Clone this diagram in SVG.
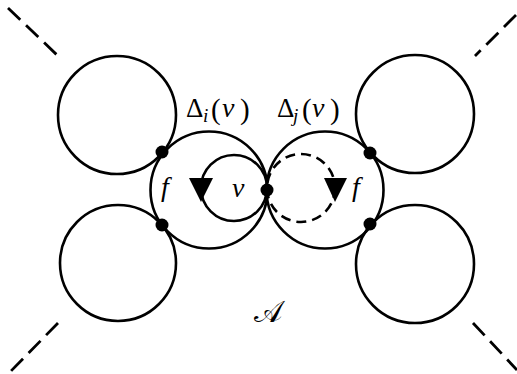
<svg xmlns="http://www.w3.org/2000/svg" width="517" height="374" viewBox="0 0 517 374">
<style>
.c{fill:none;stroke:#000;stroke-width:2.6}
.d{fill:none;stroke:#000;stroke-width:2.8;stroke-dasharray:17 8}
.dc{fill:none;stroke:#000;stroke-width:2.6;stroke-dasharray:10 6}
.dot{fill:#000}
</style>
<rect width="517" height="374" fill="#fff"/>
<g id="connectors">
<line class="d" x1="8" y1="8" x2="57" y2="55"/>
<line class="d" x1="516" y1="15" x2="475" y2="56"/>
<line class="d" x1="58" y1="323" x2="10" y2="372"/>
<line class="d" x1="473" y1="323" x2="517" y2="370"/>
</g>
<g id="circle-top-left"><circle class="c" cx="117" cy="115" r="59"/></g>
<g id="circle-bottom-left"><circle class="c" cx="118" cy="263" r="58"/></g>
<g id="circle-top-right"><circle class="c" cx="415" cy="114" r="59"/></g>
<g id="circle-bottom-right"><circle class="c" cx="415" cy="264" r="59"/></g>
<g id="face-i"><circle class="c" cx="209" cy="190" r="58.5"/>
<text x="186" y="117" font-family="Liberation Serif" font-size="27">Δ</text>
<text x="203" y="122" font-family="Liberation Serif" font-size="19" font-style="italic">i</text>
<text x="211" y="119" font-family="Liberation Serif" font-size="29">(</text>
<text x="222" y="117" font-family="Liberation Serif" font-size="28" font-style="italic">v</text>
<text x="240" y="119" font-family="Liberation Serif" font-size="29">)</text>
<text x="161" y="196" font-family="Liberation Serif" font-size="28" font-style="italic">f</text>
</g>
<g id="face-j"><circle class="c" cx="325" cy="190" r="58.5"/>
<text x="277" y="117" font-family="Liberation Serif" font-size="27">Δ</text>
<text x="293" y="122" font-family="Liberation Serif" font-size="19" font-style="italic">j</text>
<text x="302" y="119" font-family="Liberation Serif" font-size="29">(</text>
<text x="312" y="117" font-family="Liberation Serif" font-size="28" font-style="italic">v</text>
<text x="330" y="119" font-family="Liberation Serif" font-size="29">)</text>
<text x="352" y="196" font-family="Liberation Serif" font-size="28" font-style="italic">f</text>
</g>
<g id="loop-i"><circle class="c" cx="234" cy="188" r="33"/><polygon class="dot" points="189,178 213,178 201,202"/></g>
<g id="loop-j"><circle class="dc" cx="301" cy="188" r="34"/><polygon class="dot" points="324,178 347,178 335,202"/></g>
<g id="vertex-v"><circle class="dot" cx="267" cy="190" r="6.5"/><text x="232" y="197" font-family="Liberation Serif" font-size="28" font-style="italic">v</text></g>
<g id="dots">
<circle class="dot" cx="162" cy="152" r="6.5"/>
<circle class="dot" cx="162" cy="225" r="6.5"/>
<circle class="dot" cx="370" cy="153" r="6.5"/>
<circle class="dot" cx="370" cy="224" r="6.5"/>
</g>
<g id="label-A"><text x="254" y="322" font-family="DejaVu Serif" font-size="30">𝒜</text></g>
</svg>
